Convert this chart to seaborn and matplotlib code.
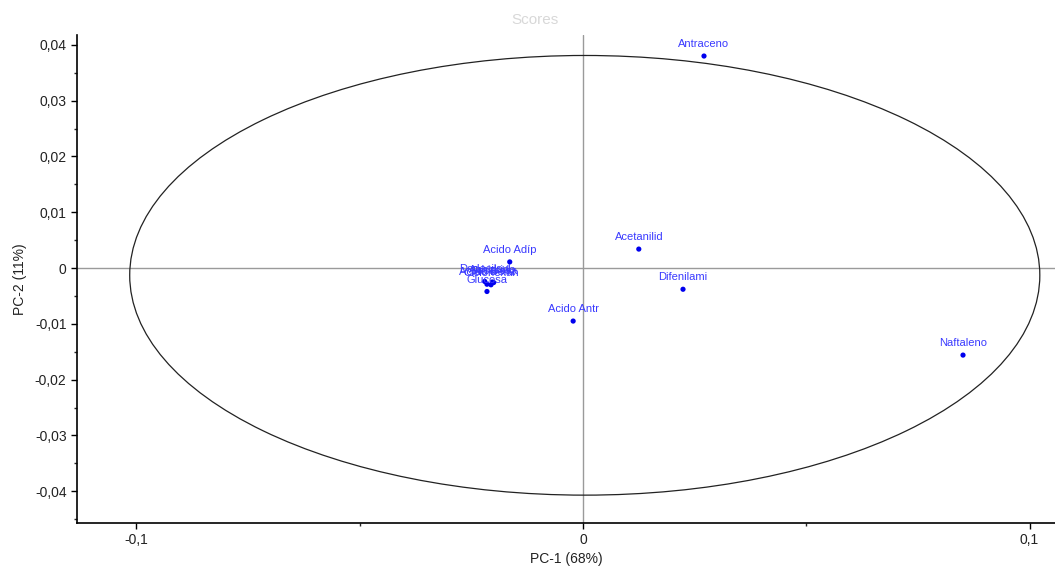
import matplotlib
matplotlib.use("Agg")
import matplotlib.pyplot as plt
import seaborn as sns
import pandas as pd
from matplotlib.patches import Ellipse
from matplotlib.ticker import MultipleLocator, FuncFormatter

sns.set_style("white")
plt.rcParams['font.family'] = ['Liberation Sans', 'DejaVu Sans']

# Data (scores)
labels = ["Antraceno", "Acetanilid", "Difenilami", "Naftaleno", "Acido Antr",
          "Acido Adíp", "Dodecilsul", "Anhidrido", "Acido Benz", "Ciclohexan",
          "Glucosa", "Sacarosa"]
pc1 = [0.0271, 0.0125, 0.0224, 0.0851, -0.0022,
       -0.0164, -0.0220, -0.0203, -0.0215, -0.0206,
       -0.0215, -0.0200]
pc2 = [0.0380, 0.0034, -0.0038, -0.0156, -0.0095,
       0.0011, -0.0024, -0.0025, -0.0029, -0.0030,
       -0.0042, -0.0026]
ellipse_center = (0.0004, -0.0013)
ellipse_a = 0.1019
ellipse_b = 0.0394

df = pd.DataFrame({"label": labels, "PC1": pc1, "PC2": pc2})

fig = plt.figure(figsize=(10.55, 5.71), dpi=100)
ax = fig.add_axes([0.073, 0.084, 0.927, 0.855])

ax.axhline(0, color="#9a9a9a", lw=1, zorder=1)
ax.axvline(0, color="#9a9a9a", lw=1, zorder=1)
ax.add_patch(Ellipse(ellipse_center, 2 * ellipse_a, 2 * ellipse_b, fill=False,
                     edgecolor="#222222", lw=0.9, zorder=2))

sns.scatterplot(data=df, x="PC1", y="PC2", ax=ax, color="#0000ee",
                s=14, edgecolor="none", zorder=3, legend=False)

for _, r in df.iterrows():
    ax.annotate(r["label"], (r["PC1"], r["PC2"]), xytext=(0, 5),
                textcoords="offset points", ha="center", va="bottom",
                fontsize=8, color="#3a3aff", zorder=4)

ax.set_xlim(-0.1133, 0.1057)
ax.set_ylim(-0.0457, 0.0418)

ax.xaxis.set_major_locator(MultipleLocator(0.1))
ax.xaxis.set_minor_locator(MultipleLocator(0.05))
ax.yaxis.set_major_locator(MultipleLocator(0.01))
ax.yaxis.set_minor_locator(MultipleLocator(0.005))

def fmt(v, pos):
    if abs(v) < 1e-9:
        return "0"
    s = f"{v:.2f}" if abs(v) < 0.095 else f"{v:.1f}"
    return s.replace(".", ",")

ax.xaxis.set_major_formatter(FuncFormatter(fmt))
ax.yaxis.set_major_formatter(FuncFormatter(fmt))

for s in ["top", "right"]:
    ax.spines[s].set_visible(False)
for s in ["left", "bottom"]:
    ax.spines[s].set_color("black")
    ax.spines[s].set_linewidth(1.2)

ax.tick_params(which="major", direction="out", length=4, width=1,
               labelsize=10, colors="black", labelcolor="#222222",
               left=True, bottom=True)
ax.tick_params(which="minor", direction="out", length=2.5, width=1,
               left=True, bottom=True)

ax.set_xlabel("PC-1 (68%)", fontsize=10, color="#222222", labelpad=3)
ax.set_ylabel("PC-2 (11%)", fontsize=10, color="#222222", labelpad=6)

fig.text(0.507, 0.965, "Scores", ha="center", va="center", fontsize=11,
         color="#d8d8d8")

fig.savefig("out.png", dpi=100)
